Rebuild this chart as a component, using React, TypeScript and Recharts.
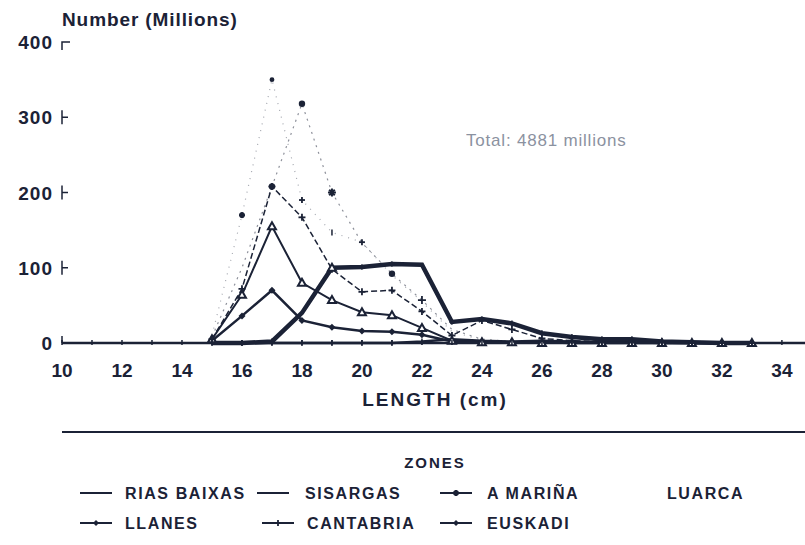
import React from 'react';
import { LineChart, Line, XAxis, YAxis } from 'recharts';

const INK = '#1b2236';
const FONT = '"Liberation Sans", Arial, sans-serif';

// length classes (cm) and numbers (millions) per zone
const lengths = [15, 16, 17, 18, 19, 20, 21, 22, 23, 24, 25, 26, 27, 28, 29, 30, 31, 32, 33];
const riasBaixas = [0, 0, 0, 0, 0, 0, 0, 2, 5, 3, 2, 3, 2, 1, 1, 0, 0, 0, 0];
const sisargas = [0, 0, 2, 40, 100, 101, 105, 104, 28, 32, 26, 13, 8, 5, 5, 2, 1, 0, 0];
const aMarina = [8, 100, 208, 318, 200, 133, 92, 57, 18, 5, 2, 1, 0, 0, 0, 0, 0, 0, 0];
const luarca = [10, 170, 350, 190, 147, 134, 90, 55, 15, 4, 1, 0, 0, 0, 0, 0, 0, 0, 0];
const llanes = [3, 36, 70, 30, 21, 16, 15, 11, 2, 1, 1, 1, 0, 0, 0, 0, 0, 0, 0];
const cantabria = [5, 72, 208, 167, 98, 68, 70, 42, 10, 30, 18, 6, 3, 2, 2, 1, 0, 0, 0];
const euskadi = [5, 64, 155, 80, 57, 41, 37, 20, 3, 1, 1, 0, 0, 0, 0, 0, 0, 0, 0];

const xTicks = [10, 11, 12, 13, 14, 15, 16, 17, 18, 19, 20, 21, 22, 23, 24, 25, 26, 27, 28, 29, 30, 31, 32, 33, 34];
const yTicks = [0, 100, 200, 300, 400];

const data = lengths.map((l, i) => ({
  length: l,
  riasBaixas: riasBaixas[i],
  sisargas: sisargas[i],
  aMarina: aMarina[i],
  luarca: luarca[i],
  llanes: llanes[i],
  cantabria: cantabria[i],
  euskadi: euskadi[i],
}));

type Shape = 'none' | 'dot' | 'star' | 'plus' | 'tri' | 'diamond' | 'tick';

const drawShape = (shape: Shape, cx: number, cy: number, s: number, k: string) => {
  switch (shape) {
    case 'dot':
      return <circle key={k} cx={cx} cy={cy} r={s * 0.8} fill={INK} />;
    case 'star':
      return (
        <g key={k} stroke={INK} strokeWidth={2}>
          <line x1={cx - s} y1={cy} x2={cx + s} y2={cy} />
          <line x1={cx} y1={cy - s} x2={cx} y2={cy + s} />
          <line x1={cx - s * 0.7} y1={cy - s * 0.7} x2={cx + s * 0.7} y2={cy + s * 0.7} />
          <line x1={cx - s * 0.7} y1={cy + s * 0.7} x2={cx + s * 0.7} y2={cy - s * 0.7} />
        </g>
      );
    case 'plus':
      return (
        <g key={k} stroke={INK} strokeWidth={1.8}>
          <line x1={cx - s} y1={cy} x2={cx + s} y2={cy} />
          <line x1={cx} y1={cy - s} x2={cx} y2={cy + s} />
        </g>
      );
    case 'tri':
      return (
        <path
          key={k}
          d={`M${cx},${cy - s - 1} L${cx + s + 1},${cy + s} L${cx - s - 1},${cy + s} Z`}
          fill="#fff"
          stroke={INK}
          strokeWidth={2}
        />
      );
    case 'diamond':
      return <path key={k} d={`M${cx},${cy - s} L${cx + s},${cy} L${cx},${cy + s} L${cx - s},${cy} Z`} fill={INK} />;
    case 'tick':
      return <line key={k} x1={cx} y1={cy - s} x2={cx} y2={cy + s} stroke={INK} strokeWidth={1.5} />;
  }
  return <g key={k} />;
};

// one marker shape per point; 'none' leaves the point bare
const markers = (shapes: Shape[] | Shape, size = 4) => (p: any) => {
  const { cx, cy, index } = p;
  const k = `m-${index}`;
  const shape = Array.isArray(shapes) ? shapes[index] ?? 'none' : shapes;
  if (cx == null || cy == null || shape === 'none') return <g key={k} />;
  return drawShape(shape, cx, cy, size, k);
};

const sisargasMarks: Shape[] = ['none', 'tick', 'tick', 'none', 'tri', 'diamond', 'diamond', 'none', 'diamond', 'diamond', 'tick', 'tick', 'tick', 'tick', 'tick', 'tick', 'tick', 'tick'];
const aMarinaMarks: Shape[] = ['none', 'none', 'dot', 'dot', 'star', 'none', 'dot', 'plus'];
const luarcaMarks: Shape[] = ['none', 'star', 'dot', 'plus', 'tick', 'plus'];

const XTick = (p: any) => {
  const { x, y, payload } = p;
  const v = payload.value as number;
  return (
    <g>
      <line x1={x} y1={y - 3} x2={x} y2={y + 2} stroke={INK} strokeWidth={1.5} />
      {v % 2 === 0 && (
        <text x={x} y={y + 34} textAnchor="middle" fill={INK} fontFamily={FONT} fontWeight={700} fontSize={19}>
          {v}
        </text>
      )}
    </g>
  );
};

const YTick = (p: any) => {
  const { x, y, payload } = p;
  const v = payload.value as number;
  return (
    <g>
      {v === 400 ? (
        <path d={`M${x},${y + 8} L${x},${y} L${x + 8},${y}`} fill="none" stroke={INK} strokeWidth={1.5} />
      ) : v === 0 ? (
        <line x1={x} y1={y - 7} x2={x} y2={y} stroke={INK} strokeWidth={1.5} />
      ) : (
        <g stroke={INK} strokeWidth={1.5}>
          <line x1={x} y1={y - 7} x2={x} y2={y + 7} />
          <line x1={x} y1={y} x2={x + 6} y2={y} />
        </g>
      )}
      <text x={x - 9} y={y + 7} textAnchor="end" fill={INK} fontFamily={FONT} fontWeight={700} fontSize={19} letterSpacing={1}>
        {v}
      </text>
    </g>
  );
};

const legendItems = [
  { name: 'RIAS BAIXAS', shape: 'none' as Shape, lx: 80, tx: 125, row: 0 },
  { name: 'SISARGAS', shape: 'none' as Shape, lx: 257, tx: 305, row: 0 },
  { name: 'A MARIÑA', shape: 'star' as Shape, lx: 440, tx: 487, row: 0 },
  { name: 'LUARCA', shape: 'none' as Shape, lx: null, tx: 667, row: 0 },
  { name: 'LLANES', shape: 'diamond' as Shape, lx: 80, tx: 125, row: 1 },
  { name: 'CANTABRIA', shape: 'plus' as Shape, lx: 262, tx: 307, row: 1 },
  { name: 'EUSKADI', shape: 'diamond' as Shape, lx: 440, tx: 487, row: 1 },
];

const ZoneLegend = () => (
  <svg width={805} height={115} style={{ display: 'block' }}>
    <text x={435} y={44} textAnchor="middle" fill={INK} fontFamily={FONT} fontWeight={700} fontSize={15} letterSpacing={2}>
      ZONES
    </text>
    {legendItems.map((item) => {
      const y = 75 + item.row * 30;
      return (
        <g key={item.name}>
          {item.lx != null && (
            <>
              <line x1={item.lx} y1={y - 6} x2={item.lx + 32} y2={y - 6} stroke={INK} strokeWidth={2} />
              {drawShape(item.shape, item.lx + 16, y - 6, 3, 'm')}
            </>
          )}
          <text x={item.tx} y={y} fill={INK} fontFamily={FONT} fontWeight={700} fontSize={16} letterSpacing={1.6}>
            {item.name}
          </text>
        </g>
      );
    })}
  </svg>
);

export default function App() {
  return (
    <div style={{ position: 'absolute', left: 0, top: 0, width: 805, height: 545, background: '#fff' }}>
      <LineChart width={805} height={545} data={data} margin={{ top: 42, right: 0, left: 0, bottom: 142 }}>
        <XAxis
          dataKey="length"
          type="number"
          domain={[10, 34.77]}
          ticks={xTicks}
          allowDataOverflow
          height={60}
          axisLine={{ stroke: INK, strokeWidth: 2.5 }}
          tickLine={false}
          tickSize={0}
          tickMargin={0}
          tick={<XTick />}
          interval={0}
        />
        <YAxis
          type="number"
          domain={[0, 400]}
          ticks={yTicks}
          width={62}
          axisLine={false}
          tickLine={false}
          tickSize={0}
          tickMargin={0}
          tick={<YTick />}
          interval={0}
        />
        <Line dataKey="riasBaixas" name="RIAS BAIXAS" stroke={INK} strokeWidth={2.5} dot={markers('tick', 3)} isAnimationActive={false} />
        <Line dataKey="llanes" name="LLANES" stroke={INK} strokeWidth={2.5} dot={markers('diamond', 3.5)} isAnimationActive={false} />
        <Line dataKey="euskadi" name="EUSKADI" stroke={INK} strokeWidth={2} dot={markers('tri', 3)} isAnimationActive={false} />
        <Line
          dataKey="cantabria"
          name="CANTABRIA"
          stroke={INK}
          strokeWidth={1.5}
          strokeDasharray="6 3"
          dot={markers('plus', 3.5)}
          isAnimationActive={false}
        />
        <Line dataKey="sisargas" name="SISARGAS" stroke={INK} strokeWidth={4.5} dot={markers(sisargasMarks, 3)} isAnimationActive={false} />
        <Line
          dataKey="aMarina"
          name="A MARIÑA"
          stroke={INK}
          strokeOpacity={0.5}
          strokeWidth={1.2}
          strokeDasharray="2 5"
          dot={markers(aMarinaMarks, 4)}
          isAnimationActive={false}
        />
        <Line
          dataKey="luarca"
          name="LUARCA"
          stroke={INK}
          strokeOpacity={0.4}
          strokeWidth={1.2}
          strokeDasharray="1 6"
          dot={markers(luarcaMarks, 3)}
          isAnimationActive={false}
        />
      </LineChart>
      <div
        style={{
          position: 'absolute',
          left: 62,
          top: 9,
          fontFamily: FONT,
          fontWeight: 700,
          fontSize: 19,
          letterSpacing: 0.9,
          color: INK,
        }}
      >
        Number (Millions)
      </div>
      <div
        style={{
          position: 'absolute',
          left: 466,
          top: 131,
          fontFamily: FONT,
          fontSize: 17,
          color: '#5a6478',
          opacity: 0.7,
          letterSpacing: 0.8,
        }}
      >
        Total: 4881 millions
      </div>
      <div
        style={{
          position: 'absolute',
          left: 0,
          width: 870,
          top: 389,
          textAlign: 'center',
          fontFamily: FONT,
          fontWeight: 700,
          fontSize: 19,
          color: INK,
          letterSpacing: 2,
        }}
      >
        LENGTH (cm)
      </div>
      <div style={{ position: 'absolute', left: 62, top: 431, width: 743, height: 2, background: INK }} />
      <div style={{ position: 'absolute', left: 0, top: 424 }}>
        <ZoneLegend />
      </div>
    </div>
  );
}
